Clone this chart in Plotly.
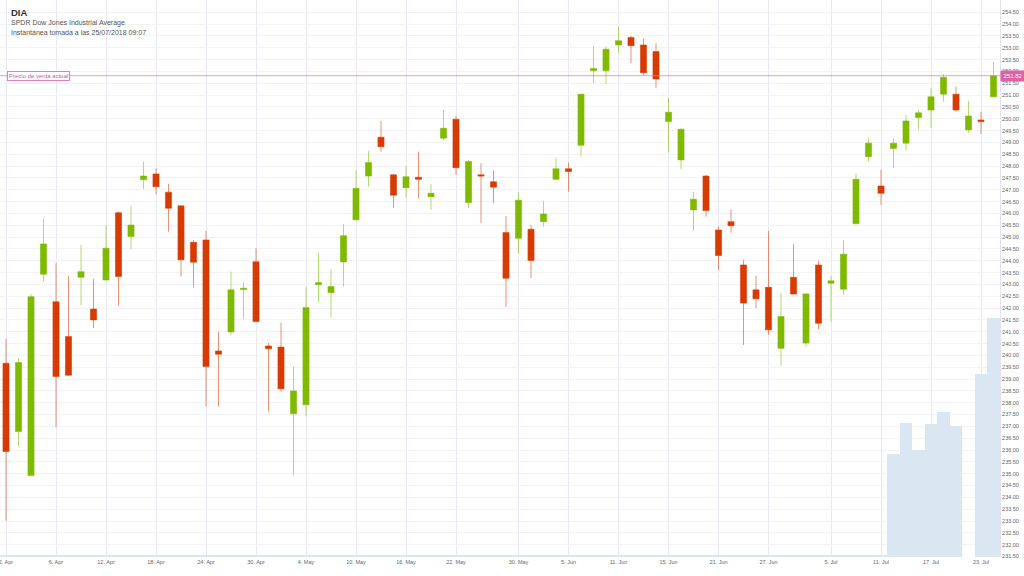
import plotly.graph_objects as go

# ---------------- data ----------------
fechas = (
    ["2018-04-%02d" % d for d in [2, 3, 4, 5, 6, 9, 10, 11, 12, 13, 16, 17, 18, 19, 20, 23, 24, 25, 26, 27, 30]]
    + ["2018-05-%02d" % d for d in [1, 2, 3, 4, 7, 8, 9, 10, 11, 14, 15, 16, 17, 18, 21, 22, 23, 24, 25, 29, 30, 31]]
    + ["2018-06-%02d" % d for d in [1, 4, 5, 6, 7, 8, 11, 12, 13, 14, 15, 18, 19, 20, 21, 22, 25, 26, 27, 28, 29]]
    + ["2018-07-%02d" % d for d in [2, 3, 5, 6, 9, 10, 11, 12, 13, 16, 17, 18, 19, 20, 23, 24]]
)

apertura = [239.67, 236.78, 234.92, 243.43, 242.27, 240.80, 243.30, 241.96, 243.19, 246.03,
            245.02, 247.42, 247.67, 246.90, 246.32, 244.78, 244.88, 240.19, 240.99, 242.78,
            243.96, 240.40, 240.35, 237.53, 237.91, 242.99, 242.65, 243.95, 245.73, 247.58,
            249.22, 247.63, 247.09, 247.53, 246.71, 249.18, 249.98, 246.46, 247.63, 247.34,
            245.19, 244.95, 245.33, 245.65, 247.44, 247.89, 248.88, 252.03, 252.03, 253.12,
            253.44, 253.12, 252.84, 249.88, 248.26, 246.15, 247.58, 245.30, 245.65, 243.82,
            242.77, 242.88, 240.30, 243.30, 240.52, 243.82, 243.05, 242.80, 245.56, 248.40,
            247.16, 248.74, 248.97, 250.05, 250.37, 251.04, 251.04, 249.53, 249.95, 250.93]
maximo = [240.70, 239.88, 242.59, 245.80, 243.90, 243.36, 244.67, 243.22, 245.51, 246.08,
          246.32, 248.19, 247.91, 247.25, 246.33, 244.88, 245.26, 241.01, 243.54, 243.08,
          244.53, 240.52, 241.39, 239.53, 242.88, 244.34, 243.64, 245.54, 247.81, 248.64,
          249.91, 247.66, 248.01, 248.61, 247.23, 250.37, 250.12, 248.26, 248.12, 247.81,
          245.89, 246.88, 245.51, 246.53, 248.36, 248.15, 251.05, 253.08, 253.05, 253.89,
          253.50, 253.40, 253.19, 250.87, 249.60, 246.92, 247.63, 245.44, 246.18, 244.04,
          243.37, 245.26, 242.65, 244.70, 242.63, 244.01, 243.36, 244.88, 247.70, 249.20,
          247.84, 249.18, 250.16, 250.37, 251.29, 251.89, 251.36, 250.75, 250.30, 252.39]
minimo = [233.01, 236.15, 234.90, 243.12, 236.97, 239.14, 242.13, 241.15, 243.15, 242.10,
          244.49, 247.03, 246.81, 245.23, 243.33, 242.87, 237.84, 237.84, 240.87, 241.53,
          241.40, 237.63, 238.47, 234.92, 237.42, 242.23, 241.60, 242.91, 245.70, 247.13,
          248.61, 246.24, 246.68, 246.64, 246.15, 249.10, 247.63, 246.22, 245.59, 246.43,
          242.04, 244.32, 243.26, 245.44, 247.42, 246.92, 248.40, 251.50, 251.48, 252.77,
          252.35, 251.85, 251.29, 248.57, 247.87, 245.27, 245.86, 243.61, 245.19, 240.44,
          241.99, 240.87, 239.56, 242.57, 240.37, 241.11, 241.43, 242.56, 245.55, 248.19,
          246.36, 247.91, 248.65, 249.56, 249.62, 250.72, 250.30, 249.41, 249.36, 250.89]
cierre = [235.94, 239.70, 242.48, 244.71, 239.11, 239.16, 243.54, 241.50, 244.53, 243.33,
          245.51, 247.58, 247.13, 246.22, 244.04, 243.94, 239.53, 240.05, 242.77, 242.84,
          241.43, 240.28, 238.59, 238.50, 242.02, 243.08, 242.91, 245.06, 247.06, 248.15,
          248.82, 246.77, 247.55, 247.44, 246.85, 249.60, 247.93, 248.19, 247.58, 247.11,
          243.26, 246.56, 244.01, 245.98, 247.89, 247.77, 251.04, 252.13, 252.94, 253.30,
          253.09, 251.95, 251.68, 250.28, 249.56, 246.60, 246.12, 244.22, 245.48, 242.21,
          242.39, 241.08, 241.64, 242.59, 242.60, 241.36, 243.15, 244.28, 247.44, 248.97,
          246.85, 248.97, 249.91, 250.25, 250.93, 251.75, 250.37, 250.12, 249.88, 251.82]
volumen = [20] * 71 + [1030, 1340, 1070, 1330, 1450, 1310, 0, 1830, 2390]

ticks_fechas = ["2018-04-02", "2018-04-06", "2018-04-12", "2018-04-18", "2018-04-24",
                "2018-04-30", "2018-05-04", "2018-05-10", "2018-05-16", "2018-05-22",
                "2018-05-30", "2018-06-05", "2018-06-11", "2018-06-15", "2018-06-21",
                "2018-06-27", "2018-07-05", "2018-07-11", "2018-07-17", "2018-07-23"]
ticks_texto = ["2. Apr", "6. Apr", "12. Apr", "18. Apr", "24. Apr", "30. Apr", "4. May",
               "10. May", "16. May", "22. May", "30. May", "5. Jun", "11. Jun", "15. Jun",
               "21. Jun", "27. Jun", "5. Jul", "11. Jul", "17. Jul", "23. Jul"]

precio_actual = 251.82
titulo = "DIA"
subtitulo = "SPDR Dow Jones Industrial Average"
instantanea = "Instantánea tomada a las 25/07/2018 09:07"
etiqueta_precio = "Precio de venta actual"

# ---------------- figure ----------------
FONT = "Liberation Sans, Arial, sans-serif"
fig = go.Figure()

fig.add_trace(go.Bar(
    x=fechas, y=volumen, yaxis="y2",
    marker=dict(color="#dae6f1", line=dict(width=0)),
    showlegend=False, hoverinfo="skip",
))

fig.add_trace(go.Candlestick(
    x=fechas, open=apertura, high=maximo, low=minimo, close=cierre,
    increasing=dict(line=dict(color="rgba(127,186,0,0.55)", width=1), fillcolor="#7fba00"),
    decreasing=dict(line=dict(color="rgba(216,59,1,0.55)", width=1), fillcolor="#d83b01"),
    whiskerwidth=0, showlegend=False,
))

fig.add_shape(type="line", xref="paper", x0=0, x1=1, yref="y", y0=precio_actual, y1=precio_actual,
              line=dict(color="rgba(222,120,180,0.75)", width=1))

fig.add_annotation(x=1, xref="paper", xanchor="left", y=precio_actual, yref="y", yanchor="middle",
                   text="%.2f" % precio_actual, showarrow=False, bgcolor="#de62a6",
                   font=dict(family=FONT, size=6, color="white"), borderpad=2, width=20)
fig.add_annotation(x=0.007, xref="paper", xanchor="left", y=precio_actual, yref="y", yanchor="middle",
                   text=etiqueta_precio, showarrow=False, bgcolor="white", bordercolor="#e27fb8",
                   borderwidth=1, borderpad=1, font=dict(family=FONT, size=6, color="#d9539c"))

fig.add_annotation(x=0.009, xref="paper", xanchor="left", y=1 - 12.5 / 557, yref="paper", yanchor="middle",
                   text="<b>%s</b>" % titulo, showarrow=False, font=dict(family=FONT, size=9.5, color="#333333"))
fig.add_annotation(x=0.009, xref="paper", xanchor="left", y=1 - 23 / 557, yref="paper", yanchor="middle",
                   text=subtitulo, showarrow=False, font=dict(family=FONT, size=7, color="#555555"))
fig.add_annotation(x=0.009, xref="paper", xanchor="left", y=1 - 32.5 / 557, yref="paper", yanchor="middle",
                   text=instantanea, showarrow=False, font=dict(family=FONT, size=7, color="#555555"))

fig.update_layout(
    width=1024, height=576,
    margin=dict(l=0, r=24, t=0, b=19),
    paper_bgcolor="white", plot_bgcolor="white",
    font=dict(family=FONT),
    bargap=0, boxgap=0.3, boxgroupgap=0.3,
    hovermode=False,
    xaxis=dict(type="category", range=[-0.48, 79.52], tickmode="array",
               tickvals=ticks_fechas, ticktext=ticks_texto,
               showgrid=True, gridcolor="#e8e8f2", gridwidth=1,
               tickfont=dict(size=5.5, color="#666666"), ticks="",
               showline=False, zeroline=False, rangeslider=dict(visible=False)),
    yaxis=dict(side="right", range=[231.48, 255.02], dtick=0.5, tick0=231.5, tickformat=".2f",
               showgrid=True, gridcolor="#f2f2f7", gridwidth=1,
               tickfont=dict(size=5.5, color="#666666"), ticks="",
               showline=True, linecolor="#e2e2ee", linewidth=1, zeroline=False),
    yaxis2=dict(overlaying="y", range=[0, 5570], visible=False),
)

fig.write_html(
    "out.html",
    config={"displayModeBar": False},
    post_script="document.body.style.margin='0';document.body.style.overflow='hidden';",
)
